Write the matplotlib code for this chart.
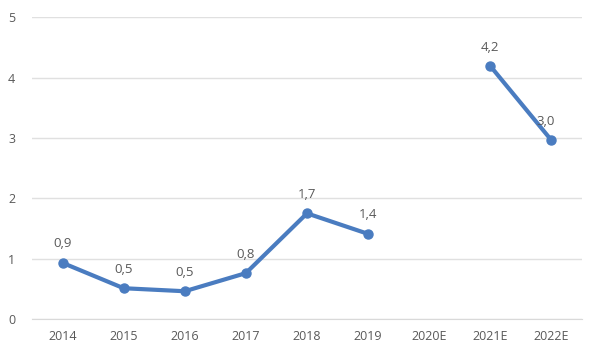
import matplotlib
matplotlib.use("Agg")
import matplotlib.pyplot as plt
import numpy as np

categories = ["2014", "2015", "2016", "2017", "2018", "2019", "2020E", "2021E", "2022E"]
values = [0.93, 0.51, 0.46, 0.76, 1.75, 1.41, np.nan, 4.19, 2.96]
labels = ["0,9", "0,5", "0,5", "0,8", "1,7", "1,4", "", "4,2", "3,0"]

plt.rcParams['font.family'] = ['Open Sans', 'DejaVu Sans']
text_color = '#595959'
line_color = '#4A7CC0'

fig = plt.figure(figsize=(6, 3.57), dpi=100)
ax = fig.add_axes([0.0533, 0.1064, 0.9167, 0.8456])

x = np.arange(len(categories))
ax.plot(x, values, color=line_color, lw=3, marker='o', ms=6.5, solid_capstyle='round', zorder=3)

for xi, v, lab in zip(x, values, labels):
    if lab and not np.isnan(v):
        dx = -4 if lab == "3,0" else 0
        ax.annotate(lab, (xi, v), xytext=(dx, 9), textcoords='offset points',
                    ha='center', va='bottom', fontsize=9.5, color=text_color)

ax.set_xlim(-0.5, len(categories) - 0.5)
ax.set_ylim(0, 5)
ax.set_yticks(range(0, 6))
ax.set_xticks(x)
ax.set_xticklabels(categories)
ax.grid(axis='y', color='#E0E0E0', lw=1)
ax.set_axisbelow(True)
for s in ['top', 'right', 'left']:
    ax.spines[s].set_visible(False)
ax.spines['bottom'].set_color('#D9D9D9')
ax.tick_params(axis='both', length=0, labelsize=9, colors=text_color)
ax.tick_params(axis='x', pad=8)
ax.tick_params(axis='y', pad=12)

fig.savefig("out.png", dpi=100)
